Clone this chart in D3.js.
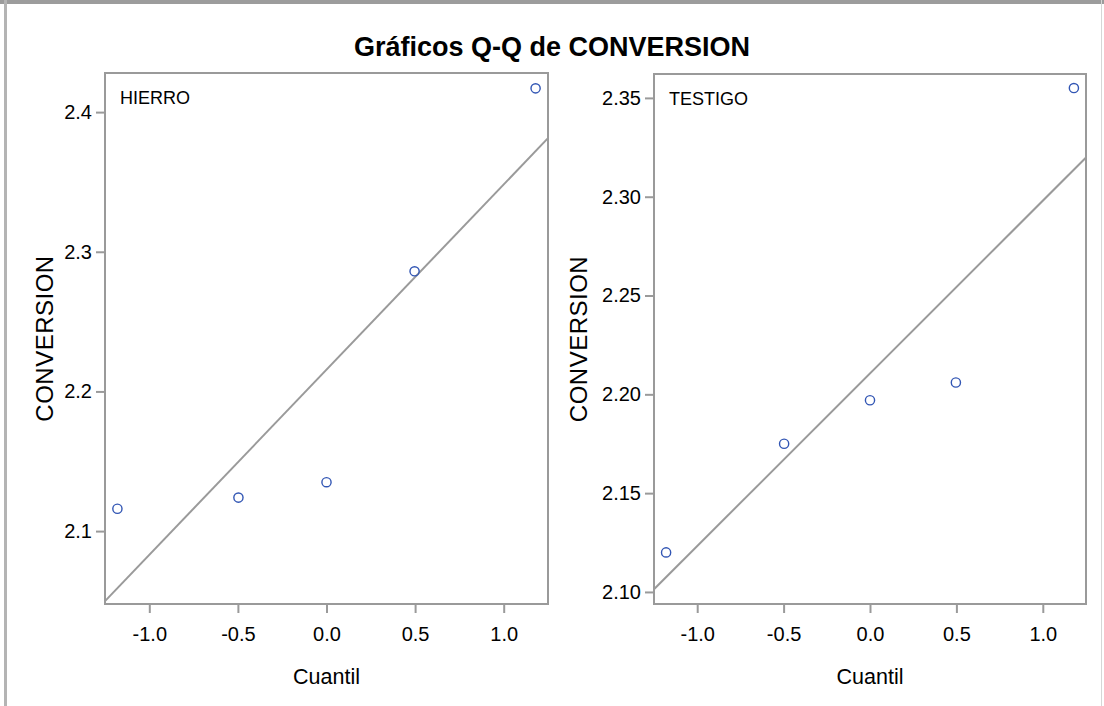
<!DOCTYPE html>
<html>
<head>
<meta charset="utf-8">
<script src="https://cdn.jsdelivr.net/npm/d3@7"></script>
<style>
    html, body { margin: 0; padding: 0; background: #ffffff; }
    svg { display: block; font-family: "Liberation Sans", Arial, sans-serif; }
</style>
</head>
<body>
<svg id="chart" width="1104" height="706"></svg>
<script>
// datos
const titulo = "Gráficos Q-Q de CONVERSION";
const grupos = ["HIERRO", "TESTIGO"];
const cuantiles = [-1.18, -0.497, 0.0, 0.497, 1.18];
const conversionHierro = [2.116, 2.124, 2.135, 2.286, 2.417];
const conversionTestigo = [2.120, 2.175, 2.197, 2.206, 2.355];
const ticksX = [-1.0, -0.5, 0.0, 0.5, 1.0];
const ticksYHierro = [2.1, 2.2, 2.3, 2.4];
const ticksYTestigo = [2.10, 2.15, 2.20, 2.25, 2.30, 2.35];

var qqChart;
(function (qqChart) {
    let prop_svg = d3.select("#chart");
    let prop_color_frame = "#9a9a9a";
    let prop_color_point = "#3256b4";

    function fn_panel(opts) {
        let xs = d3.scaleLinear().domain([-1.25, 1.25]).range([opts.x0, opts.x1]);
        let ys = d3.scaleLinear().domain(opts.yDomain).range([opts.y1, opts.y0]);
        let g = prop_svg.append("g").classed("panel", true);

        let clipId = "clip_" + opts.nombre;
        g.append("clipPath")
            .attr("id", clipId)
            .append("rect")
            .attr("x", opts.x0)
            .attr("y", opts.y0)
            .attr("width", opts.x1 - opts.x0)
            .attr("height", opts.y1 - opts.y0);

        // linea de referencia: media + desv * cuantil
        let media = d3.mean(opts.valores);
        let desv = d3.deviation(opts.valores);
        g.append("line")
            .attr("clip-path", "url(#" + clipId + ")")
            .attr("x1", xs(-1.25))
            .attr("y1", ys(media - desv * 1.25))
            .attr("x2", xs(1.25))
            .attr("y2", ys(media + desv * 1.25))
            .attr("stroke", prop_color_frame)
            .attr("stroke-width", 2);

        g.selectAll("circle.pt")
            .data(opts.valores)
            .enter()
            .append("circle")
            .classed("pt", true)
            .attr("cx", (d, i) => xs(cuantiles[i]))
            .attr("cy", d => ys(d))
            .attr("r", 4.6)
            .attr("fill", "none")
            .attr("stroke", prop_color_point)
            .attr("stroke-width", 1.4);

        // ejes
        let ax = g.append("g")
            .attr("transform", "translate(0," + opts.y1 + ")")
            .call(d3.axisBottom(xs).tickValues(ticksX).tickFormat(d => d.toFixed(1)).tickSize(9).tickPadding(14));
        let ay = g.append("g")
            .attr("transform", "translate(" + opts.x0 + ",0)")
            .call(d3.axisLeft(ys).tickValues(opts.ticksY).tickFormat(d => d.toFixed(opts.dec)).tickSize(9).tickPadding(4));
        [ax, ay].forEach(a => {
            a.select(".domain").remove();
            a.selectAll(".tick line").attr("stroke", prop_color_frame).attr("stroke-width", 2);
            a.selectAll(".tick text")
                .attr("fill", "#000000")
                .style("font-size", "20px")
                .style("font-family", "'Liberation Sans', Arial, sans-serif");
        });
        ax.selectAll(".tick text").attr("dy", "0.71em");

        g.append("rect")
            .attr("x", opts.x0)
            .attr("y", opts.y0)
            .attr("width", opts.x1 - opts.x0)
            .attr("height", opts.y1 - opts.y0)
            .attr("fill", "none")
            .attr("stroke", prop_color_frame)
            .attr("stroke-width", 2);

        g.append("text")
            .text(opts.nombre)
            .attr("x", opts.x0 + 15)
            .attr("y", opts.y0 + 31)
            .style("font-size", "18px")
            .style("fill", "#000000");

        g.append("text")
            .text("Cuantil")
            .attr("x", (opts.x0 + opts.x1) / 2)
            .attr("y", 684)
            .attr("text-anchor", "middle")
            .style("font-size", "21.5px")
            .style("fill", "#000000");

        g.append("text")
            .text("CONVERSION")
            .attr("transform", "translate(" + opts.xLabel + "," + ((opts.y0 + opts.y1) / 2) + ") rotate(-90)")
            .attr("text-anchor", "middle")
            .style("font-size", "24px")
            .style("letter-spacing", "0.5px")
            .style("fill", "#000000");
    }

    function fn_createview() {
        // marco exterior
        prop_svg.append("rect")
            .attr("x", 0).attr("y", 0).attr("width", 1104).attr("height", 4)
            .attr("fill", "#9c9c9c");
        prop_svg.append("rect")
            .attr("x", 4).attr("y", 0).attr("width", 3).attr("height", 706)
            .attr("fill", "#b4b4b4");
        prop_svg.append("rect")
            .attr("x", 1101).attr("y", 0).attr("width", 1).attr("height", 706)
            .attr("fill", "#d6d6d6");

        prop_svg.append("text")
            .text(titulo)
            .attr("x", 552)
            .attr("y", 56)
            .attr("text-anchor", "middle")
            .style("font-size", "27px")
            .style("font-weight", "bold")
            .style("fill", "#000000");

        fn_panel({
            nombre: grupos[0], valores: conversionHierro,
            x0: 105, x1: 548, y0: 73, y1: 604,
            yDomain: [2.0478, 2.428], ticksY: ticksYHierro, dec: 1, xLabel: 53
        });
        fn_panel({
            nombre: grupos[1], valores: conversionTestigo,
            x0: 654, x1: 1086, y0: 74, y1: 604,
            yDomain: [2.0939, 2.3621], ticksY: ticksYTestigo, dec: 2, xLabel: 587
        });
    }
    qqChart.fn_createview = fn_createview;
})(qqChart || (qqChart = {}));

qqChart.fn_createview();
</script>
</body>
</html>
